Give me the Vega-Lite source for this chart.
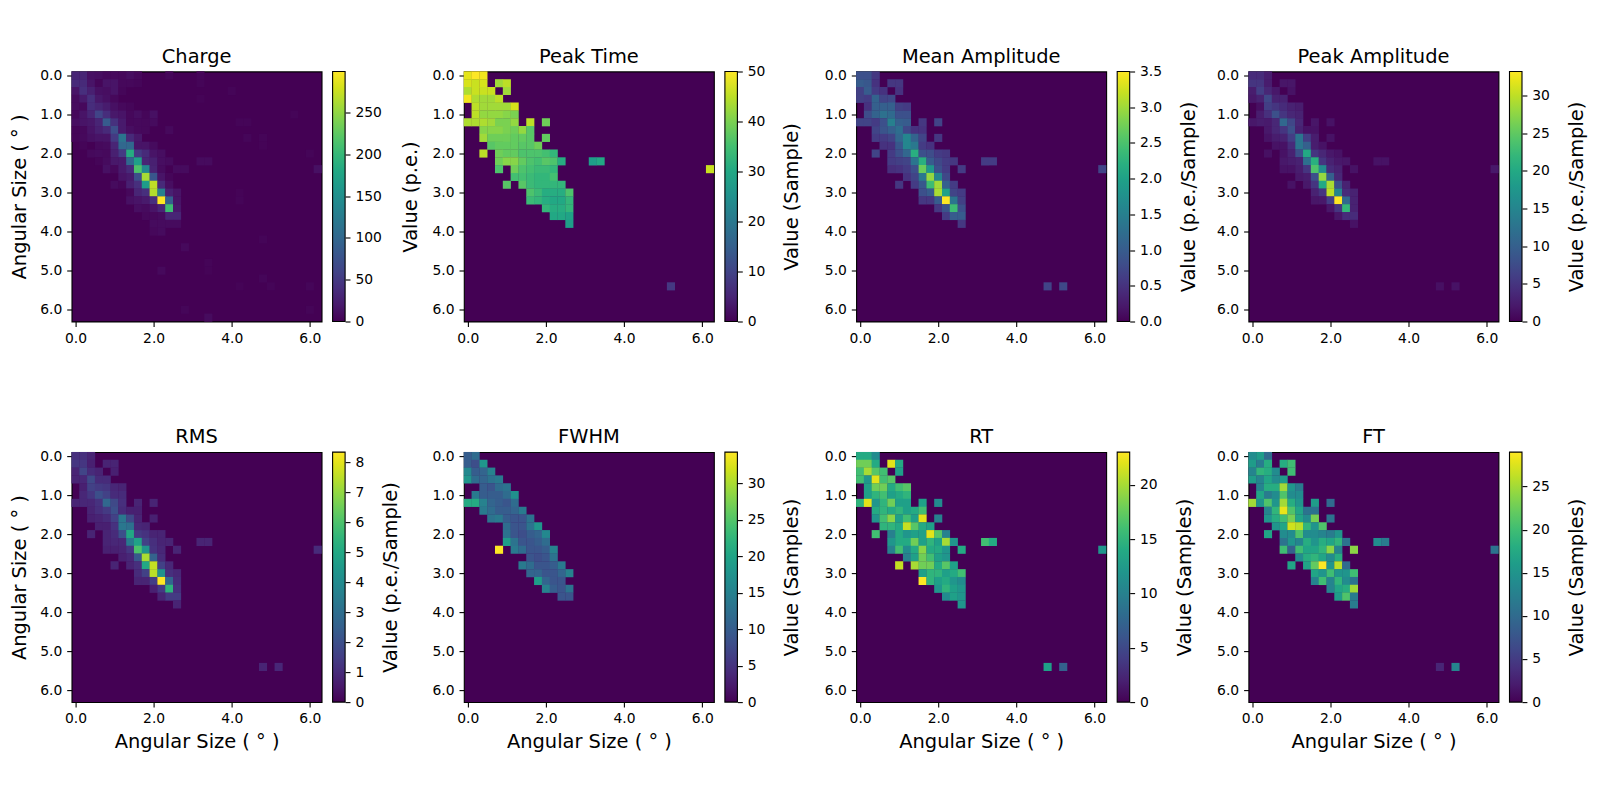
{"$schema":"https://vega.github.io/schema/vega-lite/v6.json","background":"white","padding":{"left":8.6,"top":45.5,"right":5,"bottom":5},"columns":4,"spacing":{"row":130.6,"column":142.3},"bounds":"flush","resolve":{"scale":{"color":"independent"},"legend":{"color":"independent"}},"config":{"font":"DejaVu Sans","view":{"stroke":"black","strokeWidth":1.1,"fill":"#440154"},"title":{"fontSize":19.44,"fontWeight":"normal","color":"black"},"axis":{"grid":false,"domain":false,"tickColor":"black","tickSize":4.9,"tickWidth":1.1,"labelFontSize":13.89,"labelColor":"black","labelPadding":4.9,"titleFontSize":19.44,"titleFontWeight":"normal","titleColor":"black"}},"concat":[
{"title":{"text":"Charge","offset":1.2},"width":250,"height":250,"data":{"values":[
{"x":0,"y":0,"v":30},{"x":0.2,"y":0,"v":30},{"x":0.4,"y":0,"v":12},{"x":0.6,"y":0,"v":10},{"x":0.8,"y":0,"v":6},{"x":1,"y":0,"v":6},{"x":1.2,"y":0,"v":5},{"x":1.4,"y":0,"v":10},{"x":1.6,"y":0,"v":5},{"x":2.4,"y":0,"v":4},{"x":3.2,"y":0,"v":3},
{"x":0,"y":0.2,"v":35},{"x":0.2,"y":0.2,"v":35},{"x":0.4,"y":0.2,"v":15},{"x":0.6,"y":0.2,"v":4},{"x":0.8,"y":0.2,"v":15},{"x":1,"y":0.2,"v":15},{"x":1.2,"y":0.2,"v":5},{"x":1.4,"y":0.2,"v":5},{"x":1.6,"y":0.2,"v":4},{"x":3.2,"y":0.2,"v":3},
{"x":0,"y":0.4,"v":15},{"x":0.2,"y":0.4,"v":40},{"x":0.4,"y":0.4,"v":25},{"x":0.6,"y":0.4,"v":12},{"x":0.8,"y":0.4,"v":10},{"x":1,"y":0.4,"v":15},{"x":1.2,"y":0.4,"v":4},{"x":4,"y":0.4,"v":3},
{"x":0,"y":0.6,"v":8},{"x":0.2,"y":0.6,"v":20},{"x":0.4,"y":0.6,"v":40},{"x":0.6,"y":0.6,"v":18},{"x":0.8,"y":0.6,"v":12},{"x":1,"y":0.6,"v":5},{"x":3.2,"y":0.6,"v":2},
{"x":0,"y":0.8,"v":8},{"x":0.2,"y":0.8,"v":6},{"x":0.4,"y":0.8,"v":38},{"x":0.6,"y":0.8,"v":30},{"x":0.8,"y":0.8,"v":22},{"x":1,"y":0.8,"v":12},{"x":1.2,"y":0.8,"v":6},{"x":1.4,"y":0.8,"v":4},
{"x":0,"y":1,"v":5},{"x":0.2,"y":1,"v":15},{"x":0.4,"y":1,"v":30},{"x":0.6,"y":1,"v":60},{"x":0.8,"y":1,"v":38},{"x":1,"y":1,"v":18},{"x":1.2,"y":1,"v":15},{"x":1.4,"y":1,"v":5},{"x":1.6,"y":1,"v":10},{"x":1.8,"y":1,"v":4},{"x":2,"y":1,"v":12},{"x":5.6,"y":1,"v":3},
{"x":0,"y":1.2,"v":10},{"x":0.2,"y":1.2,"v":15},{"x":0.4,"y":1.2,"v":18},{"x":0.6,"y":1.2,"v":30},{"x":0.8,"y":1.2,"v":85},{"x":1,"y":1.2,"v":42},{"x":1.2,"y":1.2,"v":20},{"x":1.4,"y":1.2,"v":5},{"x":1.6,"y":1.2,"v":6},{"x":1.8,"y":1.2,"v":5},{"x":2,"y":1.2,"v":8},{"x":4.2,"y":1.2,"v":3},{"x":4.4,"y":1.2,"v":3},
{"x":0,"y":1.4,"v":3},{"x":0.2,"y":1.4,"v":5},{"x":0.4,"y":1.4,"v":15},{"x":0.6,"y":1.4,"v":25},{"x":0.8,"y":1.4,"v":35},{"x":1,"y":1.4,"v":70},{"x":1.2,"y":1.4,"v":20},{"x":1.4,"y":1.4,"v":10},{"x":1.6,"y":1.4,"v":6},{"x":1.8,"y":1.4,"v":5},{"x":2.4,"y":1.4,"v":6},
{"x":0,"y":1.6,"v":3},{"x":0.2,"y":1.6,"v":6},{"x":0.4,"y":1.6,"v":12},{"x":0.6,"y":1.6,"v":15},{"x":0.8,"y":1.6,"v":15},{"x":1,"y":1.6,"v":50},{"x":1.2,"y":1.6,"v":115},{"x":1.4,"y":1.6,"v":35},{"x":1.6,"y":1.6,"v":18},{"x":4.4,"y":1.6,"v":4},{"x":4.8,"y":1.6,"v":3},
{"x":0.2,"y":1.8,"v":3},{"x":0.6,"y":1.8,"v":6},{"x":0.8,"y":1.8,"v":8},{"x":1,"y":1.8,"v":30},{"x":1.2,"y":1.8,"v":100},{"x":1.4,"y":1.8,"v":100},{"x":1.6,"y":1.8,"v":15},{"x":1.8,"y":1.8,"v":15},{"x":2,"y":1.8,"v":8},{"x":4.8,"y":1.8,"v":2},
{"x":0.4,"y":2,"v":6},{"x":0.6,"y":2,"v":8},{"x":0.8,"y":2,"v":6},{"x":1,"y":2,"v":25},{"x":1.2,"y":2,"v":50},{"x":1.4,"y":2,"v":185},{"x":1.6,"y":2,"v":50},{"x":1.8,"y":2,"v":35},{"x":2,"y":2,"v":15},{"x":2.2,"y":2,"v":10},{"x":6,"y":2,"v":3},
{"x":0.6,"y":2.2,"v":3},{"x":0.8,"y":2.2,"v":8},{"x":1,"y":2.2,"v":18},{"x":1.2,"y":2.2,"v":20},{"x":1.4,"y":2.2,"v":100},{"x":1.6,"y":2.2,"v":170},{"x":1.8,"y":2.2,"v":30},{"x":2,"y":2.2,"v":25},{"x":2.2,"y":2.2,"v":10},{"x":2.4,"y":2.2,"v":8},{"x":3.2,"y":2.2,"v":8},{"x":3.4,"y":2.2,"v":8},
{"x":0.8,"y":2.4,"v":12},{"x":1,"y":2.4,"v":5},{"x":1.2,"y":2.4,"v":20},{"x":1.4,"y":2.4,"v":35},{"x":1.6,"y":2.4,"v":215},{"x":1.8,"y":2.4,"v":140},{"x":2,"y":2.4,"v":28},{"x":2.2,"y":2.4,"v":8},{"x":2.6,"y":2.4,"v":8},{"x":2.8,"y":2.4,"v":8},{"x":6.2,"y":2.4,"v":12},
{"x":1.2,"y":2.6,"v":15},{"x":1.4,"y":2.6,"v":20},{"x":1.6,"y":2.6,"v":70},{"x":1.8,"y":2.6,"v":260},{"x":2,"y":2.6,"v":80},{"x":2.2,"y":2.6,"v":15},{"x":2.4,"y":2.6,"v":4},
{"x":1,"y":2.8,"v":8},{"x":1.2,"y":2.8,"v":4},{"x":1.4,"y":2.8,"v":25},{"x":1.6,"y":2.8,"v":40},{"x":1.8,"y":2.8,"v":165},{"x":2,"y":2.8,"v":270},{"x":2.2,"y":2.8,"v":35},{"x":2.4,"y":2.8,"v":10},
{"x":1.4,"y":3,"v":5},{"x":1.6,"y":3,"v":30},{"x":1.8,"y":3,"v":40},{"x":2,"y":3,"v":265},{"x":2.2,"y":3,"v":130},{"x":2.4,"y":3,"v":25},{"x":2.6,"y":3,"v":15},{"x":4.2,"y":3,"v":2},
{"x":1.4,"y":3.2,"v":12},{"x":1.6,"y":3.2,"v":15},{"x":1.8,"y":3.2,"v":20},{"x":2,"y":3.2,"v":40},{"x":2.2,"y":3.2,"v":299},{"x":2.4,"y":3.2,"v":90},{"x":2.6,"y":3.2,"v":15},{"x":4.2,"y":3.2,"v":3},
{"x":1.6,"y":3.4,"v":10},{"x":1.8,"y":3.4,"v":8},{"x":2,"y":3.4,"v":15},{"x":2.2,"y":3.4,"v":30},{"x":2.4,"y":3.4,"v":205},{"x":2.6,"y":3.4,"v":18},
{"x":1.8,"y":3.6,"v":5},{"x":2,"y":3.6,"v":5},{"x":2.2,"y":3.6,"v":8},{"x":2.4,"y":3.6,"v":30},{"x":2.6,"y":3.6,"v":30},
{"x":2,"y":3.8,"v":8},{"x":2.2,"y":3.8,"v":8},{"x":2.4,"y":3.8,"v":8},{"x":2.6,"y":3.8,"v":8},
{"x":2,"y":4,"v":5},{"x":2.2,"y":4,"v":8},
{"x":2.8,"y":4.4,"v":6},{"x":4.8,"y":4.2,"v":3},{"x":3.4,"y":4.8,"v":3},{"x":2.2,"y":5,"v":6},{"x":3.4,"y":5,"v":2},{"x":4.8,"y":5.2,"v":4},{"x":5,"y":5.4,"v":3},{"x":6,"y":5.4,"v":4},{"x":4.2,"y":5.4,"v":2},{"x":2.8,"y":6.0,"v":4},{"x":6,"y":6,"v":3},{"x":3.4,"y":6.2,"v":8}]},"resolve":{"scale":{"y":"independent"},"axis":{"y":"independent"}},"layer":[{"mark":{"type":"rect","width":8.1,"height":8.1},"encoding":{"x":{"field":"x","type":"quantitative","scale":{"domain":[-0.1,6.3],"nice":false,"zero":false},"axis":{"values":[0,2,4,6],"format":".1f","labelAngle":0,"title":null}},"y":{"field":"y","type":"quantitative","scale":{"domain":[-0.1,6.3],"nice":false,"zero":false,"reverse":true},"axis":{"values":[0,1,2,3,4,5,6],"format":".1f","title":"Angular Size ( ° )","titlePadding":10.2}},"color":{"field":"v","type":"quantitative","scale":{"scheme":"viridis","domain":[0,299],"nice":false},"legend":{"orient":"none","legendX":261,"legendY":0,"title":null,"gradientLength":250,"gradientThickness":12.5,"gradientStrokeColor":"black","gradientStrokeWidth":1.1,"labelOpacity":0,"values":[0]}}}},{"mark":{"type":"point","opacity":0},"encoding":{"y":{"field":"v","type":"quantitative","scale":{"domain":[0,299],"nice":false,"zero":false},"axis":{"orient":"right","offset":23.5,"values":[0,50,100,150,200,250],"title":"Value (p.e.)","titleAngle":270,"titleBaseline":"top","titlePadding":20}}}}]},
{"title":{"text":"Peak Time","offset":-2.7},"width":250,"height":250,"data":{"values":[
{"x":0,"y":0,"v":48},{"x":0.2,"y":0,"v":50},{"x":0.4,"y":0,"v":49},
{"x":0,"y":0.2,"v":47},{"x":0.2,"y":0.2,"v":46},{"x":0.4,"y":0.2,"v":47},{"x":0.8,"y":0.2,"v":43},{"x":1,"y":0.2,"v":45},
{"x":0,"y":0.4,"v":44},{"x":0.2,"y":0.4,"v":46},{"x":0.4,"y":0.4,"v":46},{"x":0.6,"y":0.4,"v":46},{"x":1,"y":0.4,"v":43},
{"x":0,"y":0.6,"v":49},{"x":0.2,"y":0.6,"v":44},{"x":0.4,"y":0.6,"v":43},{"x":0.6,"y":0.6,"v":43},{"x":0.8,"y":0.6,"v":45},
{"x":0.2,"y":0.8,"v":45},{"x":0.4,"y":0.8,"v":43},{"x":0.6,"y":0.8,"v":43},{"x":0.8,"y":0.8,"v":43},{"x":1,"y":0.8,"v":43},{"x":1.2,"y":0.8,"v":47},
{"x":0.2,"y":1,"v":45},{"x":0.4,"y":1,"v":42},{"x":0.6,"y":1,"v":42},{"x":0.8,"y":1,"v":42},{"x":1,"y":1,"v":41},{"x":1.2,"y":1,"v":40},
{"x":0,"y":1.2,"v":44},{"x":0.2,"y":1.2,"v":44},{"x":0.4,"y":1.2,"v":44},{"x":0.6,"y":1.2,"v":43},{"x":0.8,"y":1.2,"v":40},{"x":1,"y":1.2,"v":40},{"x":1.2,"y":1.2,"v":42},{"x":1.6,"y":1.2,"v":45},{"x":2,"y":1.2,"v":39},
{"x":0.4,"y":1.4,"v":41},{"x":0.6,"y":1.4,"v":41},{"x":0.8,"y":1.4,"v":41},{"x":1,"y":1.4,"v":40},{"x":1.2,"y":1.4,"v":39},{"x":1.4,"y":1.4,"v":42},{"x":1.6,"y":1.4,"v":37},
{"x":0.4,"y":1.6,"v":43},{"x":0.6,"y":1.6,"v":39},{"x":0.8,"y":1.6,"v":39},{"x":1,"y":1.6,"v":39},{"x":1.2,"y":1.6,"v":38},{"x":1.4,"y":1.6,"v":38},{"x":1.6,"y":1.6,"v":37},{"x":2,"y":1.6,"v":38},
{"x":0.6,"y":1.8,"v":37},{"x":0.8,"y":1.8,"v":38},{"x":1,"y":1.8,"v":38},{"x":1.2,"y":1.8,"v":38},{"x":1.4,"y":1.8,"v":37},{"x":1.6,"y":1.8,"v":37},{"x":1.8,"y":1.8,"v":39},
{"x":0.4,"y":2,"v":45},{"x":0.8,"y":2,"v":39},{"x":1,"y":2,"v":38},{"x":1.2,"y":2,"v":38},{"x":1.4,"y":2,"v":36},{"x":1.6,"y":2,"v":36},{"x":1.8,"y":2,"v":36},{"x":2,"y":2,"v":35},{"x":2.2,"y":2,"v":33},
{"x":0.8,"y":2.2,"v":39},{"x":1,"y":2.2,"v":41},{"x":1.2,"y":2.2,"v":41},{"x":1.4,"y":2.2,"v":38},{"x":1.6,"y":2.2,"v":36},{"x":1.8,"y":2.2,"v":35},{"x":2,"y":2.2,"v":37},{"x":2.2,"y":2.2,"v":36},{"x":2.4,"y":2.2,"v":31},{"x":3.2,"y":2.2,"v":28},{"x":3.4,"y":2.2,"v":30},
{"x":0.8,"y":2.4,"v":36},{"x":1.2,"y":2.4,"v":39},{"x":1.4,"y":2.4,"v":36},{"x":1.6,"y":2.4,"v":35},{"x":1.8,"y":2.4,"v":34},{"x":2,"y":2.4,"v":34},{"x":2.2,"y":2.4,"v":33},{"x":6.2,"y":2.4,"v":46},
{"x":1.2,"y":2.6,"v":35},{"x":1.4,"y":2.6,"v":35},{"x":1.6,"y":2.6,"v":34},{"x":1.8,"y":2.6,"v":33},{"x":2,"y":2.6,"v":33},{"x":2.2,"y":2.6,"v":35},
{"x":1,"y":2.8,"v":37},{"x":1.4,"y":2.8,"v":37},{"x":1.6,"y":2.8,"v":34},{"x":1.8,"y":2.8,"v":33},{"x":2,"y":2.8,"v":33},{"x":2.2,"y":2.8,"v":33},{"x":2.4,"y":2.8,"v":33},
{"x":1.6,"y":3,"v":36},{"x":1.8,"y":3,"v":34},{"x":2,"y":3,"v":31},{"x":2.2,"y":3,"v":31},{"x":2.4,"y":3,"v":31},{"x":2.6,"y":3,"v":36},
{"x":1.6,"y":3.2,"v":34},{"x":1.8,"y":3.2,"v":33},{"x":2,"y":3.2,"v":31},{"x":2.2,"y":3.2,"v":30},{"x":2.4,"y":3.2,"v":30},{"x":2.6,"y":3.2,"v":33},
{"x":2,"y":3.4,"v":33},{"x":2.2,"y":3.4,"v":31},{"x":2.4,"y":3.4,"v":31},{"x":2.6,"y":3.4,"v":33},
{"x":2.2,"y":3.6,"v":30},{"x":2.4,"y":3.6,"v":30},{"x":2.6,"y":3.6,"v":29},
{"x":2.6,"y":3.8,"v":28},{"x":5.2,"y":5.4,"v":8}]},"resolve":{"scale":{"y":"independent"},"axis":{"y":"independent"}},"layer":[{"mark":{"type":"rect","width":8.1,"height":8.1},"encoding":{"x":{"field":"x","type":"quantitative","scale":{"domain":[-0.1,6.3],"nice":false,"zero":false},"axis":{"values":[0,2,4,6],"format":".1f","labelAngle":0,"title":null}},"y":{"field":"y","type":"quantitative","scale":{"domain":[-0.1,6.3],"nice":false,"zero":false,"reverse":true},"axis":{"values":[0,1,2,3,4,5,6],"format":".1f","title":null}},"color":{"field":"v","type":"quantitative","scale":{"scheme":"viridis","domain":[0,50],"nice":false},"legend":{"orient":"none","legendX":261,"legendY":0,"title":null,"gradientLength":250,"gradientThickness":12.5,"gradientStrokeColor":"black","gradientStrokeWidth":1.1,"labelOpacity":0,"values":[0]}}}},{"mark":{"type":"point","opacity":0},"encoding":{"y":{"field":"v","type":"quantitative","scale":{"domain":[0,50],"nice":false,"zero":false},"axis":{"orient":"right","offset":23.5,"values":[0,10,20,30,40,50],"title":"Value (Sample)","titleAngle":270,"titleBaseline":"top","titlePadding":18}}}}]},
{"title":{"text":"Mean Amplitude","offset":-2.7},"width":250,"height":250,"data":{"values":[
{"x":0,"y":0,"v":0.85},{"x":0.2,"y":0,"v":0.85},{"x":0.4,"y":0,"v":0.55},
{"x":0,"y":0.2,"v":1},{"x":0.2,"y":0.2,"v":0.95},{"x":0.4,"y":0.2,"v":0.5},{"x":0.8,"y":0.2,"v":0.55},{"x":1,"y":0.2,"v":0.55},
{"x":0,"y":0.4,"v":0.65},{"x":0.2,"y":0.4,"v":1},{"x":0.4,"y":0.4,"v":0.6},{"x":0.6,"y":0.4,"v":0.5},{"x":1,"y":0.4,"v":0.5},
{"x":0,"y":0.6,"v":0.65},{"x":0.2,"y":0.6,"v":0.6},{"x":0.4,"y":0.6,"v":1.1},{"x":0.6,"y":0.6,"v":0.7},{"x":0.8,"y":0.6,"v":0.75},
{"x":0.2,"y":0.8,"v":0.5},{"x":0.4,"y":0.8,"v":1.05},{"x":0.6,"y":0.8,"v":1.05},{"x":0.8,"y":0.8,"v":1.05},{"x":1,"y":0.8,"v":0.65},{"x":1.2,"y":0.8,"v":0.6},
{"x":0.2,"y":1,"v":0.8},{"x":0.4,"y":1,"v":1.1},{"x":0.6,"y":1,"v":1.3},{"x":0.8,"y":1,"v":1.2},{"x":1,"y":1,"v":0.85},{"x":1.2,"y":1,"v":0.85},
{"x":0,"y":1.2,"v":0.7},{"x":0.2,"y":1.2,"v":0.7},{"x":0.4,"y":1.2,"v":0.6},{"x":0.6,"y":1.2,"v":0.85},{"x":0.8,"y":1.2,"v":1.5},{"x":1,"y":1.2,"v":1.05},{"x":1.2,"y":1.2,"v":1},{"x":1.6,"y":1.2,"v":0.55},{"x":2,"y":1.2,"v":0.7},
{"x":0.4,"y":1.4,"v":0.7},{"x":0.6,"y":1.4,"v":0.9},{"x":0.8,"y":1.4,"v":1.05},{"x":1,"y":1.4,"v":1.25},{"x":1.2,"y":1.4,"v":0.75},{"x":1.4,"y":1.4,"v":0.5},{"x":1.6,"y":1.4,"v":0.5},
{"x":0.4,"y":1.6,"v":0.6},{"x":0.6,"y":1.6,"v":0.6},{"x":0.8,"y":1.6,"v":0.7},{"x":1,"y":1.6,"v":1.15},{"x":1.2,"y":1.6,"v":1.6},{"x":1.4,"y":1.6,"v":1.1},{"x":1.6,"y":1.6,"v":0.7},{"x":2,"y":1.6,"v":0.55},
{"x":0.6,"y":1.8,"v":0.5},{"x":0.8,"y":1.8,"v":0.5},{"x":1,"y":1.8,"v":0.95},{"x":1.2,"y":1.8,"v":1.6},{"x":1.4,"y":1.8,"v":1.4},{"x":1.6,"y":1.8,"v":0.6},{"x":1.8,"y":1.8,"v":0.5},
{"x":0.4,"y":2,"v":0.7},{"x":0.8,"y":2,"v":0.6},{"x":1,"y":2,"v":0.85},{"x":1.2,"y":2,"v":1.15},{"x":1.4,"y":2,"v":2.2},{"x":1.6,"y":2,"v":0.85},{"x":1.8,"y":2,"v":0.8},{"x":2,"y":2,"v":0.6},{"x":2.2,"y":2,"v":0.55},
{"x":0.8,"y":2.2,"v":0.6},{"x":1,"y":2.2,"v":0.65},{"x":1.2,"y":2.2,"v":0.7},{"x":1.4,"y":2.2,"v":1.35},{"x":1.6,"y":2.2,"v":2.2},{"x":1.8,"y":2.2,"v":1},{"x":2,"y":2.2,"v":0.75},{"x":2.2,"y":2.2,"v":0.6},{"x":2.4,"y":2.2,"v":0.55},{"x":3.2,"y":2.2,"v":0.6},{"x":3.4,"y":2.2,"v":0.6},
{"x":0.8,"y":2.4,"v":0.45},{"x":1,"y":2.4,"v":0.5},{"x":1.2,"y":2.4,"v":0.6},{"x":1.4,"y":2.4,"v":0.85},{"x":1.6,"y":2.4,"v":2.7},{"x":1.8,"y":2.4,"v":1.85},{"x":2,"y":2.4,"v":0.85},{"x":2.2,"y":2.4,"v":0.6},{"x":2.6,"y":2.4,"v":0.6},{"x":6.2,"y":2.4,"v":0.7},
{"x":1.2,"y":2.6,"v":0.5},{"x":1.4,"y":2.6,"v":0.7},{"x":1.6,"y":2.6,"v":1.4},{"x":1.8,"y":2.6,"v":2.95},{"x":2,"y":2.6,"v":1.6},{"x":2.2,"y":2.6,"v":0.75},
{"x":1,"y":2.8,"v":0.55},{"x":1.4,"y":2.8,"v":0.6},{"x":1.6,"y":2.8,"v":0.95},{"x":1.8,"y":2.8,"v":2.4},{"x":2,"y":2.8,"v":3},{"x":2.2,"y":2.8,"v":1.05},{"x":2.4,"y":2.8,"v":0.6},
{"x":1.6,"y":3,"v":0.85},{"x":1.8,"y":3,"v":1},{"x":2,"y":3,"v":3.05},{"x":2.2,"y":3,"v":2},{"x":2.4,"y":3,"v":0.7},{"x":2.6,"y":3,"v":0.6},
{"x":1.6,"y":3.2,"v":0.55},{"x":1.8,"y":3.2,"v":0.55},{"x":2,"y":3.2,"v":1},{"x":2.2,"y":3.2,"v":3.5},{"x":2.4,"y":3.2,"v":1.35},{"x":2.6,"y":3.2,"v":0.65},
{"x":2,"y":3.4,"v":0.55},{"x":2.2,"y":3.4,"v":0.9},{"x":2.4,"y":3.4,"v":2.4},{"x":2.6,"y":3.4,"v":0.85},
{"x":2.2,"y":3.6,"v":0.6},{"x":2.4,"y":3.6,"v":1},{"x":2.6,"y":3.6,"v":1},
{"x":2.6,"y":3.8,"v":0.55},{"x":4.8,"y":5.4,"v":0.7},{"x":5.2,"y":5.4,"v":0.75}]},"resolve":{"scale":{"y":"independent"},"axis":{"y":"independent"}},"layer":[{"mark":{"type":"rect","width":8.1,"height":8.1},"encoding":{"x":{"field":"x","type":"quantitative","scale":{"domain":[-0.1,6.3],"nice":false,"zero":false},"axis":{"values":[0,2,4,6],"format":".1f","labelAngle":0,"title":null}},"y":{"field":"y","type":"quantitative","scale":{"domain":[-0.1,6.3],"nice":false,"zero":false,"reverse":true},"axis":{"values":[0,1,2,3,4,5,6],"format":".1f","title":null}},"color":{"field":"v","type":"quantitative","scale":{"scheme":"viridis","domain":[0,3.5],"nice":false},"legend":{"orient":"none","legendX":261,"legendY":0,"title":null,"gradientLength":250,"gradientThickness":12.5,"gradientStrokeColor":"black","gradientStrokeWidth":1.1,"labelOpacity":0,"values":[0]}}}},{"mark":{"type":"point","opacity":0},"encoding":{"y":{"field":"v","type":"quantitative","scale":{"domain":[0,3.5],"nice":false,"zero":false},"axis":{"orient":"right","offset":23.5,"values":[0,0.5,1,1.5,2,2.5,3,3.5],"format":".1f","title":"Value (p.e./Sample)","titleAngle":270,"titleBaseline":"top","titlePadding":18}}}}]},
{"title":{"text":"Peak Amplitude","offset":1.2},"width":250,"height":250,"data":{"values":[
{"x":0,"y":0,"v":4},{"x":0.2,"y":0,"v":4},{"x":0.4,"y":0,"v":2.5},
{"x":0,"y":0.2,"v":5},{"x":0.2,"y":0.2,"v":5},{"x":0.4,"y":0.2,"v":2.5},{"x":0.8,"y":0.2,"v":1.8},{"x":1,"y":0.2,"v":1.8},
{"x":0,"y":0.4,"v":2.5},{"x":0.2,"y":0.4,"v":6},{"x":0.4,"y":0.4,"v":3.5},{"x":0.6,"y":0.4,"v":2},{"x":1,"y":0.4,"v":1.5},
{"x":0,"y":0.6,"v":2},{"x":0.2,"y":0.6,"v":3},{"x":0.4,"y":0.6,"v":7},{"x":0.6,"y":0.6,"v":3},{"x":0.8,"y":0.6,"v":3},
{"x":0.2,"y":0.8,"v":1.2},{"x":0.4,"y":0.8,"v":6},{"x":0.6,"y":0.8,"v":5},{"x":0.8,"y":0.8,"v":4},{"x":1,"y":0.8,"v":3},{"x":1.2,"y":0.8,"v":2.5},
{"x":0.2,"y":1,"v":2.5},{"x":0.4,"y":1,"v":4.5},{"x":0.6,"y":1,"v":8},{"x":0.8,"y":1,"v":5},{"x":1,"y":1,"v":3.5},{"x":1.2,"y":1,"v":3},
{"x":0,"y":1.2,"v":2},{"x":0.2,"y":1.2,"v":2.5},{"x":0.4,"y":1.2,"v":2.2},{"x":0.6,"y":1.2,"v":3.5},{"x":0.8,"y":1.2,"v":11},{"x":1,"y":1.2,"v":7},{"x":1.2,"y":1.2,"v":3.5},{"x":1.6,"y":1.2,"v":1.8},{"x":2,"y":1.2,"v":1.5},
{"x":0.4,"y":1.4,"v":2},{"x":0.6,"y":1.4,"v":3.5},{"x":0.8,"y":1.4,"v":5},{"x":1,"y":1.4,"v":8},{"x":1.2,"y":1.4,"v":3},{"x":1.4,"y":1.4,"v":1.5},{"x":1.6,"y":1.4,"v":1.5},
{"x":0.4,"y":1.6,"v":1.5},{"x":0.6,"y":1.6,"v":2.5},{"x":0.8,"y":1.6,"v":3},{"x":1,"y":1.6,"v":6},{"x":1.2,"y":1.6,"v":13},{"x":1.4,"y":1.6,"v":6},{"x":1.6,"y":1.6,"v":2.5},{"x":2,"y":1.6,"v":1.5},
{"x":0.6,"y":1.8,"v":1.5},{"x":0.8,"y":1.8,"v":1.5},{"x":1,"y":1.8,"v":4},{"x":1.2,"y":1.8,"v":13},{"x":1.4,"y":1.8,"v":10},{"x":1.6,"y":1.8,"v":2.5},{"x":1.8,"y":1.8,"v":1.5},
{"x":0.4,"y":2,"v":1.3},{"x":0.8,"y":2,"v":1.5},{"x":1,"y":2,"v":3},{"x":1.2,"y":2,"v":8},{"x":1.4,"y":2,"v":20},{"x":1.6,"y":2,"v":5},{"x":1.8,"y":2,"v":3.5},{"x":2,"y":2,"v":2},{"x":2.2,"y":2,"v":1.5},
{"x":0.8,"y":2.2,"v":2},{"x":1,"y":2.2,"v":2.5},{"x":1.2,"y":2.2,"v":3},{"x":1.4,"y":2.2,"v":12},{"x":1.6,"y":2.2,"v":21},{"x":1.8,"y":2.2,"v":5},{"x":2,"y":2.2,"v":3},{"x":2.2,"y":2.2,"v":2},{"x":2.4,"y":2.2,"v":1.8},{"x":3.2,"y":2.2,"v":1.5},{"x":3.4,"y":2.2,"v":1.5},
{"x":0.8,"y":2.4,"v":1.5},{"x":1,"y":2.4,"v":1.5},{"x":1.2,"y":2.4,"v":2.5},{"x":1.4,"y":2.4,"v":5},{"x":1.6,"y":2.4,"v":24},{"x":1.8,"y":2.4,"v":16},{"x":2,"y":2.4,"v":4},{"x":2.2,"y":2.4,"v":3},{"x":2.6,"y":2.4,"v":1.5},{"x":6.2,"y":2.4,"v":2},
{"x":1.2,"y":2.6,"v":2},{"x":1.4,"y":2.6,"v":2.5},{"x":1.6,"y":2.6,"v":8},{"x":1.8,"y":2.6,"v":28},{"x":2,"y":2.6,"v":10},{"x":2.2,"y":2.6,"v":3.5},
{"x":1,"y":2.8,"v":1.5},{"x":1.4,"y":2.8,"v":2},{"x":1.6,"y":2.8,"v":5},{"x":1.8,"y":2.8,"v":20},{"x":2,"y":2.8,"v":29},{"x":2.2,"y":2.8,"v":8},{"x":2.4,"y":2.8,"v":3},
{"x":1.6,"y":3,"v":3},{"x":1.8,"y":3,"v":5},{"x":2,"y":3,"v":30},{"x":2.2,"y":3,"v":15},{"x":2.4,"y":3,"v":4},{"x":2.6,"y":3,"v":3},
{"x":1.6,"y":3.2,"v":1.8},{"x":1.8,"y":3.2,"v":2},{"x":2,"y":3.2,"v":6},{"x":2.2,"y":3.2,"v":33.2},{"x":2.4,"y":3.2,"v":11},{"x":2.6,"y":3.2,"v":3},
{"x":2,"y":3.4,"v":1.8},{"x":2.2,"y":3.4,"v":5},{"x":2.4,"y":3.4,"v":22},{"x":2.6,"y":3.4,"v":3},
{"x":2.2,"y":3.6,"v":1.8},{"x":2.4,"y":3.6,"v":4},{"x":2.6,"y":3.6,"v":4},
{"x":2.6,"y":3.8,"v":1.5},{"x":4.8,"y":5.4,"v":1.3},{"x":5.2,"y":5.4,"v":1.5}]},"resolve":{"scale":{"y":"independent"},"axis":{"y":"independent"}},"layer":[{"mark":{"type":"rect","width":8.1,"height":8.1},"encoding":{"x":{"field":"x","type":"quantitative","scale":{"domain":[-0.1,6.3],"nice":false,"zero":false},"axis":{"values":[0,2,4,6],"format":".1f","labelAngle":0,"title":null}},"y":{"field":"y","type":"quantitative","scale":{"domain":[-0.1,6.3],"nice":false,"zero":false,"reverse":true},"axis":{"values":[0,1,2,3,4,5,6],"format":".1f","title":null}},"color":{"field":"v","type":"quantitative","scale":{"scheme":"viridis","domain":[0,33.2],"nice":false},"legend":{"orient":"none","legendX":261,"legendY":0,"title":null,"gradientLength":250,"gradientThickness":12.5,"gradientStrokeColor":"black","gradientStrokeWidth":1.1,"labelOpacity":0,"values":[0]}}}},{"mark":{"type":"point","opacity":0},"encoding":{"y":{"field":"v","type":"quantitative","scale":{"domain":[0,33.2],"nice":false,"zero":false},"axis":{"orient":"right","offset":23.5,"values":[0,5,10,15,20,25,30],"title":"Value (p.e./Sample)","titleAngle":270,"titleBaseline":"top","titlePadding":18}}}}]},
{"title":{"text":"RMS","offset":1.2},"width":250,"height":250,"data":{"values":[
{"x":0,"y":0,"v":1.1},{"x":0.2,"y":0,"v":1.1},{"x":0.4,"y":0,"v":0.8},
{"x":0,"y":0.2,"v":1.3},{"x":0.2,"y":0.2,"v":1.3},{"x":0.4,"y":0.2,"v":0.7},{"x":0.8,"y":0.2,"v":0.8},{"x":1,"y":0.2,"v":0.8},
{"x":0,"y":0.4,"v":0.8},{"x":0.2,"y":0.4,"v":1.7},{"x":0.4,"y":0.4,"v":1},{"x":0.6,"y":0.4,"v":0.8},{"x":1,"y":0.4,"v":0.7},
{"x":0,"y":0.6,"v":0.8},{"x":0.2,"y":0.6,"v":0.9},{"x":0.4,"y":0.6,"v":1.8},{"x":0.6,"y":0.6,"v":1},{"x":0.8,"y":0.6,"v":1},
{"x":0.2,"y":0.8,"v":0.7},{"x":0.4,"y":0.8,"v":1.6},{"x":0.6,"y":0.8,"v":1.4},{"x":0.8,"y":0.8,"v":1.3},{"x":1,"y":0.8,"v":0.9},{"x":1.2,"y":0.8,"v":0.8},
{"x":0.2,"y":1,"v":0.9},{"x":0.4,"y":1,"v":1.3},{"x":0.6,"y":1,"v":2},{"x":0.8,"y":1,"v":1.6},{"x":1,"y":1,"v":1},{"x":1.2,"y":1,"v":1},
{"x":0,"y":1.2,"v":0.8},{"x":0.2,"y":1.2,"v":0.9},{"x":0.4,"y":1.2,"v":0.9},{"x":0.6,"y":1.2,"v":1.2},{"x":0.8,"y":1.2,"v":2.8},{"x":1,"y":1.2,"v":1.8},{"x":1.2,"y":1.2,"v":1.1},{"x":1.6,"y":1.2,"v":0.8},{"x":2,"y":1.2,"v":0.8},
{"x":0.4,"y":1.4,"v":0.8},{"x":0.6,"y":1.4,"v":1.1},{"x":0.8,"y":1.4,"v":1.4},{"x":1,"y":1.4,"v":2},{"x":1.2,"y":1.4,"v":1},{"x":1.4,"y":1.4,"v":0.7},{"x":1.6,"y":1.4,"v":0.7},
{"x":0.4,"y":1.6,"v":0.7},{"x":0.6,"y":1.6,"v":0.8},{"x":0.8,"y":1.6,"v":1},{"x":1,"y":1.6,"v":1.6},{"x":1.2,"y":1.6,"v":3.3},{"x":1.4,"y":1.6,"v":1.8},{"x":1.6,"y":1.6,"v":0.8},{"x":2,"y":1.6,"v":0.7},
{"x":0.6,"y":1.8,"v":0.7},{"x":0.8,"y":1.8,"v":0.7},{"x":1,"y":1.8,"v":1.2},{"x":1.2,"y":1.8,"v":3.3},{"x":1.4,"y":1.8,"v":3.1},{"x":1.6,"y":1.8,"v":0.9},{"x":1.8,"y":1.8,"v":0.8},
{"x":0.4,"y":2,"v":0.8},{"x":0.8,"y":2,"v":0.8},{"x":1,"y":2,"v":1},{"x":1.2,"y":2,"v":2},{"x":1.4,"y":2,"v":5},{"x":1.6,"y":2,"v":1.4},{"x":1.8,"y":2,"v":1.2},{"x":2,"y":2,"v":0.8},{"x":2.2,"y":2,"v":0.8},
{"x":0.8,"y":2.2,"v":0.8},{"x":1,"y":2.2,"v":0.9},{"x":1.2,"y":2.2,"v":0.9},{"x":1.4,"y":2.2,"v":3.4},{"x":1.6,"y":2.2,"v":4.8},{"x":1.8,"y":2.2,"v":1.6},{"x":2,"y":2.2,"v":1.1},{"x":2.2,"y":2.2,"v":0.8},{"x":2.4,"y":2.2,"v":0.8},{"x":3.2,"y":2.2,"v":0.8},{"x":3.4,"y":2.2,"v":0.8},
{"x":0.8,"y":2.4,"v":0.7},{"x":1,"y":2.4,"v":0.7},{"x":1.2,"y":2.4,"v":0.8},{"x":1.4,"y":2.4,"v":1.3},{"x":1.6,"y":2.4,"v":6},{"x":1.8,"y":2.4,"v":4.3},{"x":2,"y":2.4,"v":1.2},{"x":2.2,"y":2.4,"v":0.9},{"x":2.6,"y":2.4,"v":0.8},{"x":6.2,"y":2.4,"v":1},
{"x":1.2,"y":2.6,"v":0.7},{"x":1.4,"y":2.6,"v":0.9},{"x":1.6,"y":2.6,"v":2.3},{"x":1.8,"y":2.6,"v":7.3},{"x":2,"y":2.6,"v":2.6},{"x":2.2,"y":2.6,"v":1},
{"x":1,"y":2.8,"v":0.8},{"x":1.4,"y":2.8,"v":0.8},{"x":1.6,"y":2.8,"v":1.1},{"x":1.8,"y":2.8,"v":5},{"x":2,"y":2.8,"v":7.6},{"x":2.2,"y":2.8,"v":1.6},{"x":2.4,"y":2.8,"v":0.9},
{"x":1.6,"y":3,"v":1},{"x":1.8,"y":3,"v":1.6},{"x":2,"y":3,"v":7.5},{"x":2.2,"y":3,"v":4.2},{"x":2.4,"y":3,"v":1.1},{"x":2.6,"y":3,"v":0.9},
{"x":1.6,"y":3.2,"v":0.8},{"x":1.8,"y":3.2,"v":0.8},{"x":2,"y":3.2,"v":1.5},{"x":2.2,"y":3.2,"v":8.35},{"x":2.4,"y":3.2,"v":2.7},{"x":2.6,"y":3.2,"v":1},
{"x":2,"y":3.4,"v":0.7},{"x":2.2,"y":3.4,"v":1.4},{"x":2.4,"y":3.4,"v":5.4},{"x":2.6,"y":3.4,"v":1.1},
{"x":2.2,"y":3.6,"v":0.8},{"x":2.4,"y":3.6,"v":1.4},{"x":2.6,"y":3.6,"v":1.4},
{"x":2.6,"y":3.8,"v":0.8},{"x":4.8,"y":5.4,"v":0.8},{"x":5.2,"y":5.4,"v":0.9}]},"resolve":{"scale":{"y":"independent"},"axis":{"y":"independent"}},"layer":[{"mark":{"type":"rect","width":8.1,"height":8.1},"encoding":{"x":{"field":"x","type":"quantitative","scale":{"domain":[-0.1,6.3],"nice":false,"zero":false},"axis":{"values":[0,2,4,6],"format":".1f","labelAngle":0,"title":"Angular Size ( ° )","titlePadding":7}},"y":{"field":"y","type":"quantitative","scale":{"domain":[-0.1,6.3],"nice":false,"zero":false,"reverse":true},"axis":{"values":[0,1,2,3,4,5,6],"format":".1f","title":"Angular Size ( ° )","titlePadding":10.2}},"color":{"field":"v","type":"quantitative","scale":{"scheme":"viridis","domain":[0,8.35],"nice":false},"legend":{"orient":"none","legendX":261,"legendY":0,"title":null,"gradientLength":250,"gradientThickness":12.5,"gradientStrokeColor":"black","gradientStrokeWidth":1.1,"labelOpacity":0,"values":[0]}}}},{"mark":{"type":"point","opacity":0},"encoding":{"y":{"field":"v","type":"quantitative","scale":{"domain":[0,8.35],"nice":false,"zero":false},"axis":{"orient":"right","offset":23.5,"values":[0,1,2,3,4,5,6,7,8],"title":"Value (p.e./Sample)","titleAngle":270,"titleBaseline":"top","titlePadding":18}}}}]},
{"title":{"text":"FWHM","offset":1.2},"width":250,"height":250,"data":{"values":[
{"x":0,"y":0,"v":10},{"x":0.2,"y":0,"v":12},
{"x":0,"y":0.2,"v":10},{"x":0.2,"y":0.2,"v":8},{"x":0.4,"y":0.2,"v":18},
{"x":0,"y":0.4,"v":16},{"x":0.2,"y":0.4,"v":10},{"x":0.4,"y":0.4,"v":11},{"x":0.6,"y":0.4,"v":15},
{"x":0,"y":0.6,"v":18},{"x":0.2,"y":0.6,"v":12},{"x":0.4,"y":0.6,"v":11},{"x":0.6,"y":0.6,"v":13},{"x":0.8,"y":0.6,"v":14},
{"x":0.4,"y":0.8,"v":10},{"x":0.6,"y":0.8,"v":9},{"x":0.8,"y":0.8,"v":12},{"x":1,"y":0.8,"v":13},
{"x":0.2,"y":1,"v":14},{"x":0.4,"y":1,"v":10},{"x":0.6,"y":1,"v":10},{"x":0.8,"y":1,"v":10},{"x":1,"y":1,"v":12},{"x":1.2,"y":1,"v":17},
{"x":0,"y":1.2,"v":21},{"x":0.2,"y":1.2,"v":21},{"x":0.4,"y":1.2,"v":15},{"x":0.6,"y":1.2,"v":11},{"x":0.8,"y":1.2,"v":10},{"x":1,"y":1.2,"v":9},{"x":1.2,"y":1.2,"v":12},
{"x":0.4,"y":1.4,"v":14},{"x":0.6,"y":1.4,"v":12},{"x":0.8,"y":1.4,"v":10},{"x":1,"y":1.4,"v":10},{"x":1.2,"y":1.4,"v":11},{"x":1.4,"y":1.4,"v":14},
{"x":0.6,"y":1.6,"v":13},{"x":0.8,"y":1.6,"v":14},{"x":1,"y":1.6,"v":10},{"x":1.2,"y":1.6,"v":9},{"x":1.4,"y":1.6,"v":9},{"x":1.6,"y":1.6,"v":13},
{"x":1,"y":1.8,"v":12},{"x":1.2,"y":1.8,"v":9},{"x":1.4,"y":1.8,"v":9},{"x":1.6,"y":1.8,"v":13},{"x":1.8,"y":1.8,"v":18},
{"x":1,"y":2,"v":13},{"x":1.2,"y":2,"v":9},{"x":1.4,"y":2,"v":8},{"x":1.6,"y":2,"v":10},{"x":1.8,"y":2,"v":11},{"x":2,"y":2,"v":16},
{"x":1,"y":2.2,"v":19},{"x":1.2,"y":2.2,"v":13},{"x":1.4,"y":2.2,"v":9},{"x":1.6,"y":2.2,"v":9},{"x":1.8,"y":2.2,"v":10},{"x":2,"y":2.2,"v":12},
{"x":0.8,"y":2.4,"v":34.3},{"x":1.2,"y":2.4,"v":14},{"x":1.4,"y":2.4,"v":12},{"x":1.6,"y":2.4,"v":9},{"x":1.8,"y":2.4,"v":9},{"x":2,"y":2.4,"v":10},{"x":2.2,"y":2.4,"v":15},
{"x":1.6,"y":2.6,"v":9},{"x":1.8,"y":2.6,"v":8},{"x":2,"y":2.6,"v":9},{"x":2.2,"y":2.6,"v":13},
{"x":1.4,"y":2.8,"v":14},{"x":1.6,"y":2.8,"v":12},{"x":1.8,"y":2.8,"v":9},{"x":2,"y":2.8,"v":9},{"x":2.2,"y":2.8,"v":10},{"x":2.4,"y":2.8,"v":14},
{"x":1.6,"y":3,"v":11},{"x":1.8,"y":3,"v":11},{"x":2,"y":3,"v":9},{"x":2.2,"y":3,"v":9},{"x":2.4,"y":3,"v":11},{"x":2.6,"y":3,"v":15},
{"x":1.8,"y":3.2,"v":19},{"x":2,"y":3.2,"v":11},{"x":2.2,"y":3.2,"v":9},{"x":2.4,"y":3.2,"v":9},
{"x":2,"y":3.4,"v":15},{"x":2.2,"y":3.4,"v":10},{"x":2.4,"y":3.4,"v":9},{"x":2.6,"y":3.4,"v":13},
{"x":2.4,"y":3.6,"v":9},{"x":2.6,"y":3.6,"v":9}]},"resolve":{"scale":{"y":"independent"},"axis":{"y":"independent"}},"layer":[{"mark":{"type":"rect","width":8.1,"height":8.1},"encoding":{"x":{"field":"x","type":"quantitative","scale":{"domain":[-0.1,6.3],"nice":false,"zero":false},"axis":{"values":[0,2,4,6],"format":".1f","labelAngle":0,"title":"Angular Size ( ° )","titlePadding":7}},"y":{"field":"y","type":"quantitative","scale":{"domain":[-0.1,6.3],"nice":false,"zero":false,"reverse":true},"axis":{"values":[0,1,2,3,4,5,6],"format":".1f","title":null}},"color":{"field":"v","type":"quantitative","scale":{"scheme":"viridis","domain":[0,34.3],"nice":false},"legend":{"orient":"none","legendX":261,"legendY":0,"title":null,"gradientLength":250,"gradientThickness":12.5,"gradientStrokeColor":"black","gradientStrokeWidth":1.1,"labelOpacity":0,"values":[0]}}}},{"mark":{"type":"point","opacity":0},"encoding":{"y":{"field":"v","type":"quantitative","scale":{"domain":[0,34.3],"nice":false,"zero":false},"axis":{"orient":"right","offset":23.5,"values":[0,5,10,15,20,25,30],"title":"Value (Samples)","titleAngle":270,"titleBaseline":"top","titlePadding":18}}}}]},
{"title":{"text":"RT","offset":1.2},"width":250,"height":250,"data":{"values":[
{"x":0,"y":0,"v":14},{"x":0.2,"y":0,"v":14},{"x":0.4,"y":0,"v":11},
{"x":0,"y":0.2,"v":18},{"x":0.2,"y":0.2,"v":18},{"x":0.4,"y":0.2,"v":14},{"x":0.8,"y":0.2,"v":22},{"x":1,"y":0.2,"v":14},
{"x":0,"y":0.4,"v":16},{"x":0.2,"y":0.4,"v":20},{"x":0.4,"y":0.4,"v":17},{"x":0.6,"y":0.4,"v":16},{"x":1,"y":0.4,"v":13},
{"x":0,"y":0.6,"v":16},{"x":0.2,"y":0.6,"v":12},{"x":0.4,"y":0.6,"v":22},{"x":0.6,"y":0.6,"v":16},{"x":0.8,"y":0.6,"v":17},
{"x":0.2,"y":0.8,"v":13},{"x":0.4,"y":0.8,"v":18},{"x":0.6,"y":0.8,"v":18},{"x":0.8,"y":0.8,"v":14},{"x":1,"y":0.8,"v":16},{"x":1.2,"y":0.8,"v":17},
{"x":0.2,"y":1,"v":13},{"x":0.4,"y":1,"v":15},{"x":0.6,"y":1,"v":16},{"x":0.8,"y":1,"v":13},{"x":1,"y":1,"v":14},{"x":1.2,"y":1,"v":15},
{"x":0,"y":1.2,"v":15},{"x":0.2,"y":1.2,"v":22},{"x":0.4,"y":1.2,"v":12},{"x":0.6,"y":1.2,"v":15},{"x":0.8,"y":1.2,"v":18},{"x":1,"y":1.2,"v":13},{"x":1.2,"y":1.2,"v":13},{"x":1.6,"y":1.2,"v":13},{"x":2,"y":1.2,"v":11},
{"x":0.4,"y":1.4,"v":14},{"x":0.6,"y":1.4,"v":15},{"x":0.8,"y":1.4,"v":14},{"x":1,"y":1.4,"v":15},{"x":1.2,"y":1.4,"v":13},{"x":1.4,"y":1.4,"v":14},{"x":1.6,"y":1.4,"v":16},
{"x":0.4,"y":1.6,"v":12},{"x":0.6,"y":1.6,"v":16},{"x":0.8,"y":1.6,"v":19},{"x":1,"y":1.6,"v":13},{"x":1.2,"y":1.6,"v":16},{"x":1.4,"y":1.6,"v":13},{"x":1.6,"y":1.6,"v":22},{"x":2,"y":1.6,"v":10},
{"x":0.6,"y":1.8,"v":15},{"x":0.8,"y":1.8,"v":15},{"x":1,"y":1.8,"v":14},{"x":1.2,"y":1.8,"v":21},{"x":1.4,"y":1.8,"v":17},{"x":1.6,"y":1.8,"v":14},{"x":1.8,"y":1.8,"v":13},
{"x":0.4,"y":2,"v":16},{"x":0.8,"y":2,"v":10},{"x":1,"y":2,"v":14},{"x":1.2,"y":2,"v":12},{"x":1.4,"y":2,"v":13},{"x":1.6,"y":2,"v":13},{"x":1.8,"y":2,"v":22},{"x":2,"y":2,"v":17},{"x":2.2,"y":2,"v":10},
{"x":0.8,"y":2.2,"v":12},{"x":1,"y":2.2,"v":14},{"x":1.2,"y":2.2,"v":14},{"x":1.4,"y":2.2,"v":18},{"x":1.6,"y":2.2,"v":13},{"x":1.8,"y":2.2,"v":15},{"x":2,"y":2.2,"v":13},{"x":2.2,"y":2.2,"v":20},{"x":2.4,"y":2.2,"v":12},{"x":3.2,"y":2.2,"v":16},{"x":3.4,"y":2.2,"v":14},
{"x":0.8,"y":2.4,"v":10},{"x":1,"y":2.4,"v":16},{"x":1.2,"y":2.4,"v":11},{"x":1.4,"y":2.4,"v":14},{"x":1.6,"y":2.4,"v":19},{"x":1.8,"y":2.4,"v":14},{"x":2,"y":2.4,"v":14},{"x":2.2,"y":2.4,"v":12},{"x":2.6,"y":2.4,"v":14},{"x":6.2,"y":2.4,"v":12},
{"x":1.2,"y":2.6,"v":10},{"x":1.4,"y":2.6,"v":13},{"x":1.6,"y":2.6,"v":18},{"x":1.8,"y":2.6,"v":16},{"x":2,"y":2.6,"v":13},{"x":2.2,"y":2.6,"v":12},
{"x":1,"y":2.8,"v":21},{"x":1.4,"y":2.8,"v":20},{"x":1.6,"y":2.8,"v":18},{"x":1.8,"y":2.8,"v":18},{"x":2,"y":2.8,"v":14},{"x":2.2,"y":2.8,"v":17},{"x":2.4,"y":2.8,"v":13},
{"x":1.6,"y":3,"v":13},{"x":1.8,"y":3,"v":15},{"x":2,"y":3,"v":15},{"x":2.2,"y":3,"v":13},{"x":2.4,"y":3,"v":14},{"x":2.6,"y":3,"v":16},
{"x":1.6,"y":3.2,"v":23},{"x":1.8,"y":3.2,"v":15},{"x":2,"y":3.2,"v":13},{"x":2.2,"y":3.2,"v":14},{"x":2.4,"y":3.2,"v":12},{"x":2.6,"y":3.2,"v":11},
{"x":2,"y":3.4,"v":12},{"x":2.2,"y":3.4,"v":15},{"x":2.4,"y":3.4,"v":13},{"x":2.6,"y":3.4,"v":12},
{"x":2.2,"y":3.6,"v":11},{"x":2.4,"y":3.6,"v":13},{"x":2.6,"y":3.6,"v":12},
{"x":2.6,"y":3.8,"v":12},{"x":4.8,"y":5.4,"v":13},{"x":5.2,"y":5.4,"v":7}]},"resolve":{"scale":{"y":"independent"},"axis":{"y":"independent"}},"layer":[{"mark":{"type":"rect","width":8.1,"height":8.1},"encoding":{"x":{"field":"x","type":"quantitative","scale":{"domain":[-0.1,6.3],"nice":false,"zero":false},"axis":{"values":[0,2,4,6],"format":".1f","labelAngle":0,"title":"Angular Size ( ° )","titlePadding":7}},"y":{"field":"y","type":"quantitative","scale":{"domain":[-0.1,6.3],"nice":false,"zero":false,"reverse":true},"axis":{"values":[0,1,2,3,4,5,6],"format":".1f","title":null}},"color":{"field":"v","type":"quantitative","scale":{"scheme":"viridis","domain":[0,23],"nice":false},"legend":{"orient":"none","legendX":261,"legendY":0,"title":null,"gradientLength":250,"gradientThickness":12.5,"gradientStrokeColor":"black","gradientStrokeWidth":1.1,"labelOpacity":0,"values":[0]}}}},{"mark":{"type":"point","opacity":0},"encoding":{"y":{"field":"v","type":"quantitative","scale":{"domain":[0,23],"nice":false,"zero":false},"axis":{"orient":"right","offset":23.5,"values":[0,5,10,15,20],"title":"Value (Samples)","titleAngle":270,"titleBaseline":"top","titlePadding":18}}}}]},
{"title":{"text":"FT","offset":1.2},"width":250,"height":250,"data":{"values":[
{"x":0,"y":0,"v":14},{"x":0.2,"y":0,"v":16},{"x":0.4,"y":0,"v":10},
{"x":0,"y":0.2,"v":16},{"x":0.2,"y":0.2,"v":12},{"x":0.4,"y":0.2,"v":18},{"x":0.8,"y":0.2,"v":18},{"x":1,"y":0.2,"v":20},
{"x":0,"y":0.4,"v":13},{"x":0.2,"y":0.4,"v":19},{"x":0.4,"y":0.4,"v":18},{"x":0.6,"y":0.4,"v":14},{"x":1,"y":0.4,"v":20},
{"x":0,"y":0.6,"v":16},{"x":0.2,"y":0.6,"v":13},{"x":0.4,"y":0.6,"v":17},{"x":0.6,"y":0.6,"v":14},{"x":0.8,"y":0.6,"v":16},
{"x":0.2,"y":0.8,"v":13},{"x":0.4,"y":0.8,"v":18},{"x":0.6,"y":0.8,"v":18},{"x":0.8,"y":0.8,"v":25},{"x":1,"y":0.8,"v":15},{"x":1.2,"y":0.8,"v":12},
{"x":0.2,"y":1,"v":17},{"x":0.4,"y":1,"v":12},{"x":0.6,"y":1,"v":14},{"x":0.8,"y":1,"v":21},{"x":1,"y":1,"v":14},{"x":1.2,"y":1,"v":14},
{"x":0,"y":1.2,"v":25},{"x":0.2,"y":1.2,"v":15},{"x":0.4,"y":1.2,"v":21},{"x":0.6,"y":1.2,"v":15},{"x":0.8,"y":1.2,"v":25},{"x":1,"y":1.2,"v":18},{"x":1.2,"y":1.2,"v":15},{"x":1.6,"y":1.2,"v":16},{"x":2,"y":1.2,"v":10},
{"x":0.4,"y":1.4,"v":13},{"x":0.6,"y":1.4,"v":19},{"x":0.8,"y":1.4,"v":28},{"x":1,"y":1.4,"v":21},{"x":1.2,"y":1.4,"v":17},{"x":1.4,"y":1.4,"v":11},{"x":1.6,"y":1.4,"v":11},
{"x":0.4,"y":1.6,"v":15},{"x":0.6,"y":1.6,"v":18},{"x":0.8,"y":1.6,"v":20},{"x":1,"y":1.6,"v":23},{"x":1.2,"y":1.6,"v":17},{"x":1.4,"y":1.6,"v":14},{"x":1.6,"y":1.6,"v":23},{"x":2,"y":1.6,"v":11},
{"x":0.6,"y":1.8,"v":15},{"x":0.8,"y":1.8,"v":17},{"x":1,"y":1.8,"v":27},{"x":1.2,"y":1.8,"v":26},{"x":1.4,"y":1.8,"v":19},{"x":1.6,"y":1.8,"v":15},{"x":1.8,"y":1.8,"v":21},
{"x":0.4,"y":2,"v":17},{"x":0.8,"y":2,"v":14},{"x":1,"y":2,"v":14},{"x":1.2,"y":2,"v":21},{"x":1.4,"y":2,"v":14},{"x":1.6,"y":2,"v":14},{"x":1.8,"y":2,"v":13},{"x":2,"y":2,"v":12},{"x":2.2,"y":2,"v":15},
{"x":0.8,"y":2.2,"v":11},{"x":1,"y":2.2,"v":15},{"x":1.2,"y":2.2,"v":13},{"x":1.4,"y":2.2,"v":18},{"x":1.6,"y":2.2,"v":15},{"x":1.8,"y":2.2,"v":18},{"x":2,"y":2.2,"v":17},{"x":2.2,"y":2.2,"v":19},{"x":2.4,"y":2.2,"v":11},{"x":3.2,"y":2.2,"v":14},{"x":3.4,"y":2.2,"v":12},
{"x":0.8,"y":2.4,"v":20},{"x":1,"y":2.4,"v":9},{"x":1.2,"y":2.4,"v":20},{"x":1.4,"y":2.4,"v":17},{"x":1.6,"y":2.4,"v":17},{"x":1.8,"y":2.4,"v":19},{"x":2,"y":2.4,"v":24},{"x":2.2,"y":2.4,"v":13},{"x":2.6,"y":2.4,"v":24},{"x":6.2,"y":2.4,"v":11},
{"x":1.2,"y":2.6,"v":14},{"x":1.4,"y":2.6,"v":18},{"x":1.6,"y":2.6,"v":19},{"x":1.8,"y":2.6,"v":17},{"x":2,"y":2.6,"v":14},{"x":2.2,"y":2.6,"v":18},
{"x":1,"y":2.8,"v":17},{"x":1.4,"y":2.8,"v":17},{"x":1.6,"y":2.8,"v":22},{"x":1.8,"y":2.8,"v":29},{"x":2,"y":2.8,"v":15},{"x":2.2,"y":2.8,"v":26},{"x":2.4,"y":2.8,"v":10},
{"x":1.6,"y":3,"v":17},{"x":1.8,"y":3,"v":15},{"x":2,"y":3,"v":20},{"x":2.2,"y":3,"v":15},{"x":2.4,"y":3,"v":15},{"x":2.6,"y":3,"v":20},
{"x":1.6,"y":3.2,"v":13},{"x":1.8,"y":3.2,"v":20},{"x":2,"y":3.2,"v":13},{"x":2.2,"y":3.2,"v":19},{"x":2.4,"y":3.2,"v":14},{"x":2.6,"y":3.2,"v":11},
{"x":2,"y":3.4,"v":13},{"x":2.2,"y":3.4,"v":17},{"x":2.4,"y":3.4,"v":18},{"x":2.6,"y":3.4,"v":25},
{"x":2.2,"y":3.6,"v":16},{"x":2.4,"y":3.6,"v":21},{"x":2.6,"y":3.6,"v":12},
{"x":2.6,"y":3.8,"v":12},{"x":4.8,"y":5.4,"v":3},{"x":5.2,"y":5.4,"v":13}]},"resolve":{"scale":{"y":"independent"},"axis":{"y":"independent"}},"layer":[{"mark":{"type":"rect","width":8.1,"height":8.1},"encoding":{"x":{"field":"x","type":"quantitative","scale":{"domain":[-0.1,6.3],"nice":false,"zero":false},"axis":{"values":[0,2,4,6],"format":".1f","labelAngle":0,"title":"Angular Size ( ° )","titlePadding":7}},"y":{"field":"y","type":"quantitative","scale":{"domain":[-0.1,6.3],"nice":false,"zero":false,"reverse":true},"axis":{"values":[0,1,2,3,4,5,6],"format":".1f","title":null}},"color":{"field":"v","type":"quantitative","scale":{"scheme":"viridis","domain":[0,29],"nice":false},"legend":{"orient":"none","legendX":261,"legendY":0,"title":null,"gradientLength":250,"gradientThickness":12.5,"gradientStrokeColor":"black","gradientStrokeWidth":1.1,"labelOpacity":0,"values":[0]}}}},{"mark":{"type":"point","opacity":0},"encoding":{"y":{"field":"v","type":"quantitative","scale":{"domain":[0,29],"nice":false,"zero":false},"axis":{"orient":"right","offset":23.5,"values":[0,5,10,15,20,25],"title":"Value (Samples)","titleAngle":270,"titleBaseline":"top","titlePadding":18}}}}]}
]}
